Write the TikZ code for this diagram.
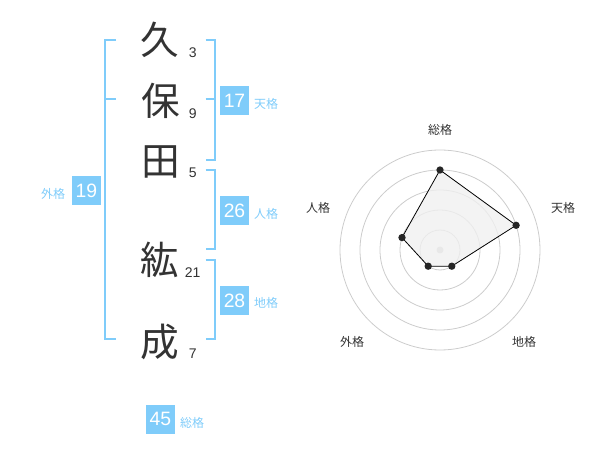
\documentclass[tikz,border=0pt]{standalone}
\usepackage{fontspec}
\setmainfont{Liberation Sans}
\newfontfamily\jp{Noto Sans CJK JP}
\definecolor{kblue}{RGB}{127,204,250}
\definecolor{kdark}{RGB}{51,51,51}
\definecolor{kgrid}{RGB}{204,204,204}
\definecolor{kfill}{RGB}{240,240,240}
\begin{document}
\begin{tikzpicture}[x=0.75pt,y=-0.75pt,
  kanji/.style={font=\jp\fontsize{29}{32}\selectfont,text=kdark,inner sep=0pt},
  stroke/.style={font=\fontsize{10.5}{12}\selectfont,text=kdark,inner sep=0pt},
  valbox/.style={fill=kblue,text=white,font=\fontsize{14.5}{16}\selectfont,minimum width=21.75pt,minimum height=21.75pt,inner sep=0pt},
  kaku/.style={font=\jp\fontsize{9}{10}\selectfont,text=kblue,inner sep=0pt},
  bracket/.style={draw=kblue,line width=1.5pt},
  axislbl/.style={font=\jp\fontsize{9}{10}\selectfont,text=kdark,inner sep=0pt},
  ring/.style={draw=kgrid,line width=0.6pt},
  pt/.style={circle,fill=black!85,inner sep=0pt,minimum size=5.5pt}]
\useasboundingbox (0,0) rectangle (600,470);
% name characters
\node[kanji] (c1) at (160,40) {久};
\node[kanji] (c2) at (161,100.5) {保};
\node[kanji] (c3) at (161,161.5) {田};
\node[kanji] (c4) at (160,260) {紘};
\node[kanji] (c5) at (160,342) {成};
% stroke counts
\node[stroke] (n1) at (192.7,52.7) {3};
\node[stroke] (n2) at (192.7,113.3) {9};
\node[stroke] (n3) at (192.7,172.7) {5};
\node[stroke] (n4) at (192.7,272.7) {21};
\node[stroke] (n5) at (192.7,353.3) {7};
% brackets
\draw[bracket] (116,40) -- (105,40) -- (105,339.3) -- (116,339.3);
\draw[bracket] (105,99.3) -- (116,99.3);
\draw[bracket] (205.5,40) -- (214.5,40) -- (214.5,160) -- (205.5,160);
\draw[bracket] (205.5,99.3) -- (214.5,99.3);
\draw[bracket] (205.5,170) -- (214.5,170) -- (214.5,249.3) -- (205.5,249.3);
\draw[bracket] (205.5,260) -- (214.5,260) -- (214.5,339.3) -- (205.5,339.3);
% values
\node[valbox] (v17) at (234.5,100.5) {17};
\node[kaku] (l17) at (266,104) {天格};
\node[valbox] (v26) at (234.5,210.5) {26};
\node[kaku] (l26) at (266,214) {人格};
\node[valbox] (v28) at (234.5,300.5) {28};
\node[kaku] (l28) at (266,303) {地格};
\node[valbox] (v19) at (86.5,190.5) {19};
\node[kaku] (l19) at (53,194) {外格};
\node[valbox] (v45) at (160.5,419) {45};
\node[kaku] (l45) at (192,423) {総格};
% radar
\coordinate (o) at (440,250);
\foreach \r in {20,40,60,80,100} \draw[ring] (o) circle[radius=\r*0.75pt];
\fill[kgrid] (o) circle[radius=3.5*0.75pt];
\coordinate (p1) at (440,170);
\coordinate (p2) at (516.1,225.3);
\coordinate (p3) at (451.8,266.2);
\coordinate (p4) at (428.2,266.2);
\coordinate (p5) at (402,237.6);
\filldraw[fill=kfill,fill opacity=0.8,draw=black,line width=0.6pt] (p1) -- (p2) -- (p3) -- (p4) -- (p5) -- cycle;
\foreach \p in {p1,p2,p3,p4,p5} \node[pt] at (\p) {};
\node[axislbl] (a1) at (440,130) {総格};
\node[axislbl] (a2) at (563,208) {天格};
\node[axislbl] (a3) at (524,342) {地格};
\node[axislbl] (a4) at (352,342) {外格};
\node[axislbl] (a5) at (318,208) {人格};
\end{tikzpicture}
\end{document}
